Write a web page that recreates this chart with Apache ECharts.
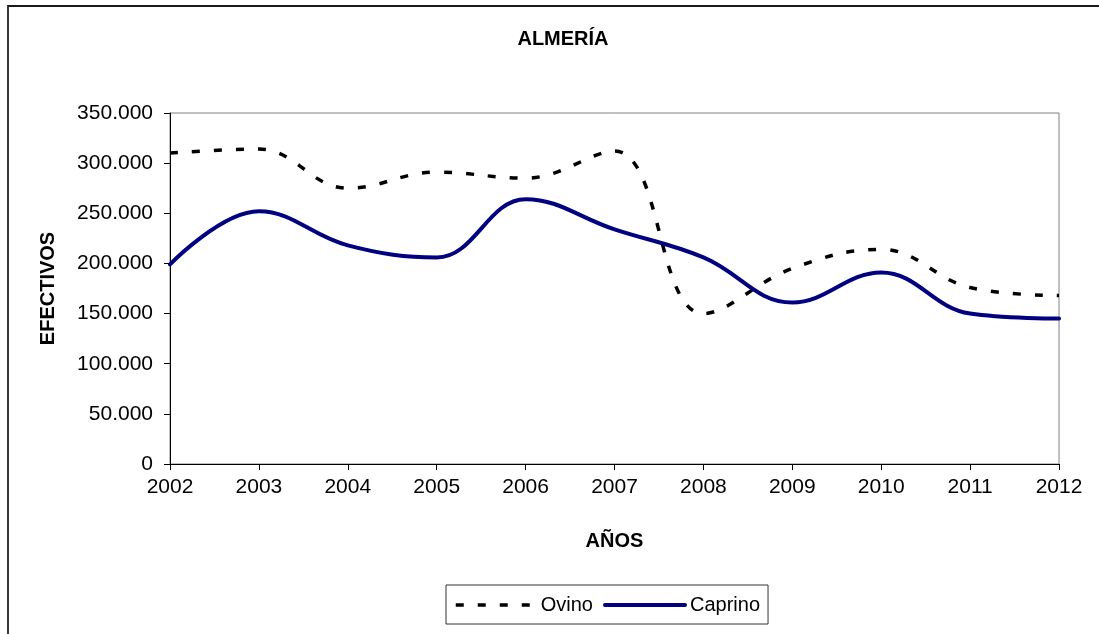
<!DOCTYPE html>
<html>
<head>
<meta charset="utf-8">
<title>ALMERÍA</title>
<script src="https://cdn.jsdelivr.net/npm/echarts@6/dist/echarts.min.js"></script>
<style>
  html, body { margin: 0; padding: 0; background: #fff; }
  #chart { width: 1099px; height: 634px; }
  /* marco del gráfico, recortado por la derecha y abajo */
  .frame {
    position: absolute; left: 7px; top: 5px; width: 1100px; height: 640px;
    border-left: 2px solid #3a3a3a; border-top: 2px solid #1a1a1a;
    pointer-events: none;
  }
</style>
</head>
<body>
<div id="chart"></div>
<div class="frame"></div>
<script>
// datos
const years = ['2002', '2003', '2004', '2005', '2006', '2007', '2008', '2009', '2010', '2011', '2012'];
const ovino = [310000, 314000, 275000, 291000, 285000, 312000, 150000, 195000, 214000, 176000, 168000];
const caprino = [199000, 252000, 218000, 206000, 264000, 234000, 206000, 161000, 191000, 150000, 145000];

const font = '"Liberation Sans", Arial, sans-serif';

// 350000 -> "350.000"
const fmt = (v) => String(v).replace(/\B(?=(\d{3})+(?!\d))/g, '.');

const chart = echarts.init(document.getElementById('chart'));
const option = {
  animation: false,
  backgroundColor: '#fff',
  title: {
    text: 'ALMERÍA',
    left: 558,
    top: 24,
    textAlign: 'center',
    textStyle: { fontFamily: font, fontSize: 20, fontWeight: 'bold', color: '#000' },
  },
  grid: {
    left: 170,
    right: 40,
    top: 113,
    bottom: 170,
    show: true,
    borderColor: '#808080',
    borderWidth: 1,
  },
  legend: {
    left: 446,
    top: 585,
    orient: 'horizontal',
    itemWidth: 80,
    itemHeight: 14,
    itemGap: 10,
    padding: [10, 8, 9, 8],
    borderColor: '#333',
    borderWidth: 1,
    // solo la línea, sin el punto
    itemStyle: { color: 'rgba(0,0,0,0)', borderWidth: 0 },
    textStyle: { fontFamily: font, fontSize: 20, color: '#000' },
    data: [
      { name: 'Ovino', lineStyle: { width: 3.5 } },
      { name: 'Caprino', lineStyle: { width: 4 } },
    ],
  },
  xAxis: {
    type: 'category',
    data: years,
    boundaryGap: false,
    name: 'AÑOS',
    nameLocation: 'middle',
    nameGap: 67,
    nameTextStyle: { fontFamily: font, fontSize: 20, fontWeight: 'bold', color: '#000' },
    axisLine: { lineStyle: { color: '#000', width: 1 } },
    axisTick: { show: true, inside: false, length: 6, lineStyle: { color: '#000' } },
    axisLabel: { fontFamily: font, fontSize: 21, color: '#000', margin: 13 },
    splitLine: { show: false },
  },
  yAxis: {
    type: 'value',
    min: 0,
    max: 350000,
    interval: 50000,
    name: 'EFECTIVOS',
    nameLocation: 'middle',
    nameGap: 112,
    nameRotate: 90,
    nameTextStyle: { fontFamily: font, fontSize: 20, fontWeight: 'bold', color: '#000' },
    axisLine: { show: true, lineStyle: { color: '#000', width: 1 } },
    axisTick: { show: true, length: 6, lineStyle: { color: '#000' } },
    axisLabel: { fontFamily: font, fontSize: 21, color: '#000', margin: 17, formatter: fmt },
    splitLine: { show: false },
  },
  series: [
    {
      name: 'Ovino',
      type: 'line',
      data: ovino,
      smooth: 0.4,
      symbol: 'none',
      lineStyle: { color: '#000', width: 3.5, type: [8, 14] },
      itemStyle: { color: '#000' },
    },
    {
      name: 'Caprino',
      type: 'line',
      data: caprino,
      smooth: 0.4,
      symbol: 'none',
      lineStyle: { color: '#000080', width: 4, cap: 'round' },
      itemStyle: { color: '#000080' },
    },
  ],
};
chart.setOption(option);
</script>
</body>
</html>
